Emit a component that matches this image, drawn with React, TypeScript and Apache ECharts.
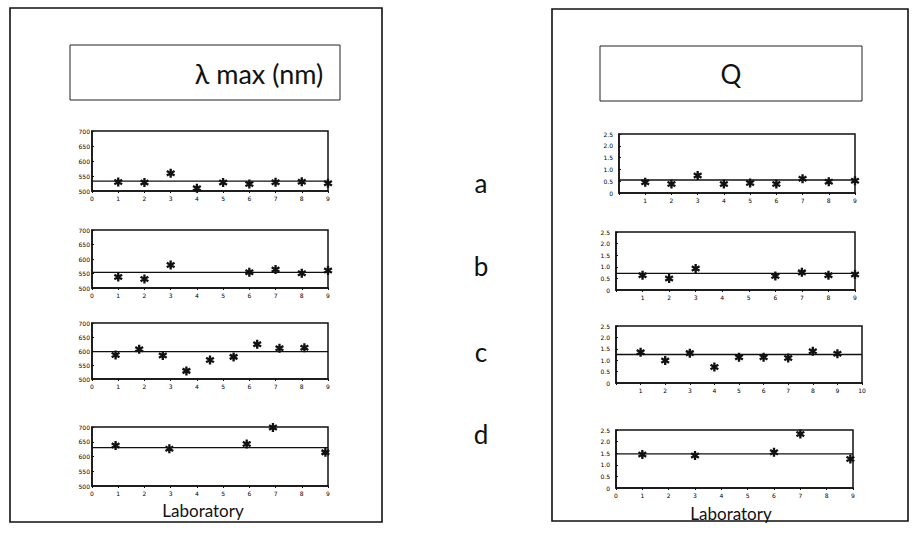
import React, { useEffect, useRef } from "react";
import * as echarts from "echarts";

// ---------- data ----------
const panelTitles = ["λ max (nm)", "Q"];
const rowLabels = ["a", "b", "c", "d"];
const axisTitle = "Laboratory";

// λ max (nm) panels
const lamA_x = [1, 2, 3, 4, 5, 6, 7, 8, 9];
const lamA_y = [530, 528, 559, 509, 528, 523, 529, 531, 526];
const lamB_x = [1, 2, 3, 6, 7, 8, 9];
const lamB_y = [538, 531, 579, 554, 564, 551, 560];
const lamC_x = [0.9, 1.8, 2.7, 3.6, 4.5, 5.4, 6.3, 7.15, 8.1];
const lamC_y = [586, 606, 584, 529, 568, 579, 624, 610, 612];
const lamD_x = [0.9, 2.95, 5.9, 6.9, 8.9];
const lamD_y = [637, 626, 642, 698, 614];
const lamMeans = [533, 554, 598, 630];

// Q panels
const qA_x = [1, 2, 3, 4, 5, 6, 7, 8, 9];
const qA_y = [0.46, 0.38, 0.74, 0.38, 0.42, 0.38, 0.6, 0.48, 0.52];
const qB_x = [1, 2, 3, 6, 7, 8, 9];
const qB_y = [0.64, 0.5, 0.93, 0.6, 0.76, 0.64, 0.67];
const qC_x = [1, 2, 3, 4, 5, 6, 7, 8, 9];
const qC_y = [1.35, 0.99, 1.31, 0.7, 1.13, 1.13, 1.1, 1.39, 1.28];
const qD_x = [1, 3, 6, 7, 8.9];
const qD_y = [1.44, 1.4, 1.54, 2.33, 1.25];
const qMeans = [0.55, 0.72, 1.25, 1.47];

const lamTicks = { min: 500, max: 700, interval: 50 };
const qTicks = { min: 0, max: 2.5, interval: 0.5 };
const xMaxLeft = [9, 9, 9, 9];
const xMaxRight = [9, 9, 10, 9];
const showZeroRight = [false, false, false, true];

// ---------- helpers ----------
function asteriskPath(): string {
  const t = 0.26;
  const parts: string[] = [];
  for (const a of [90, 30, -30]) {
    const r = (a * Math.PI) / 180;
    const dx = Math.cos(r) * 10;
    const dy = Math.sin(r) * 10;
    const nx = -Math.sin(r) * 10 * t;
    const ny = Math.cos(r) * 10 * t;
    const p = [
      [dx + nx, dy + ny],
      [dx - nx, dy - ny],
      [-dx - nx, -dy - ny],
      [-dx + nx, -dy + ny],
    ].map((q) => `${(q[0] + 10).toFixed(2)} ${(q[1] + 10).toFixed(2)}`);
    parts.push(`M${p[0]} L${p[1]} L${p[2]} L${p[3]} Z`);
  }
  return "path://" + parts.join(" ");
}

export default function App() {
  const ref = useRef<HTMLDivElement>(null);

  useEffect(() => {
    if (!ref.current) return;
    const chart = echarts.init(ref.current, undefined, { renderer: "svg" });
    const star = asteriskPath();
    const font = "DejaVu Sans";

    const leftGrids = [
      { left: 92, top: 131, width: 236, height: 60 },
      { left: 92, top: 230, width: 236, height: 58 },
      { left: 92, top: 323, width: 236, height: 56 },
      { left: 92, top: 427, width: 236, height: 59 },
    ];
    const rightGrids = [
      { left: 619, top: 134, width: 236, height: 59 },
      { left: 616, top: 232, width: 239, height: 58 },
      { left: 616, top: 326, width: 246, height: 57 },
      { left: 616, top: 430, width: 237, height: 58 },
    ];

    const grids: any[] = [];
    const xAxes: any[] = [];
    const yAxes: any[] = [];
    const series: any[] = [];

    const lamX = [lamA_x, lamB_x, lamC_x, lamD_x];
    const lamY = [lamA_y, lamB_y, lamC_y, lamD_y];
    const qX = [qA_x, qB_x, qC_x, qD_x];
    const qY = [qA_y, qB_y, qC_y, qD_y];

    const axisLabelStyle = { fontSize: 6, color: "#000", fontFamily: font };

    const addPanel = (
      g: any,
      xs: number[],
      ys: number[],
      mean: number,
      xmax: number,
      ticks: { min: number; max: number; interval: number },
      isQ: boolean,
      showZero: boolean
    ) => {
      const idx = grids.length;
      grids.push({
        ...g,
        show: true,
        borderColor: "#111",
        borderWidth: 1.5,
        backgroundColor: "transparent",
      });
      xAxes.push({
        type: "value",
        gridIndex: idx,
        min: 0,
        max: xmax,
        interval: 1,
        axisLine: { show: true, onZero: false, lineStyle: { color: "#111", width: 1.5 } },
        axisTick: { show: true, length: 2, lineStyle: { color: "#111" } },
        axisLabel: {
          ...axisLabelStyle,
          margin: 4,
          formatter: (v: number) => (v === 0 && !showZero ? "" : String(v)),
        },
        splitLine: { show: false },
      });
      yAxes.push({
        type: "value",
        gridIndex: idx,
        min: ticks.min,
        max: ticks.max,
        interval: ticks.interval,
        axisLine: { show: true, lineStyle: { color: "#111", width: 1.5 } },
        axisTick: { show: true, length: 2, inside: true, lineStyle: { color: "#111" } },
        axisLabel: {
          ...axisLabelStyle,
          margin: isQ ? 6 : 2,
          formatter: (v: number) => (isQ ? (v === 0 ? "0" : v.toFixed(1)) : String(v)),
        },
        splitLine: { show: false },
      });
      series.push({
        type: "line",
        xAxisIndex: idx,
        yAxisIndex: idx,
        data: [
          [0, mean],
          [xmax, mean],
        ],
        symbol: "none",
        lineStyle: { color: "#111", width: 1.3 },
        silent: true,
        z: 2,
      });
      series.push({
        type: "scatter",
        xAxisIndex: idx,
        yAxisIndex: idx,
        data: xs.map((x, i) => [x, ys[i]]),
        symbol: star,
        symbolSize: 9,
        symbolKeepAspect: true,
        itemStyle: { color: "#111", opacity: 1 },
        z: 3,
      });
    };

    for (let i = 0; i < 4; i++) {
      addPanel(leftGrids[i], lamX[i], lamY[i], lamMeans[i], xMaxLeft[i], lamTicks, false, true);
    }
    for (let i = 0; i < 4; i++) {
      addPanel(rightGrids[i], qX[i], qY[i], qMeans[i], xMaxRight[i], qTicks, true, showZeroRight[i]);
    }

    const rowY = [183, 266, 352, 434];
    const graphic: any[] = [
      {
        type: "rect",
        shape: { x: 10, y: 8, width: 372, height: 514 },
        style: { fill: "none", stroke: "#111", lineWidth: 1.6 },
      },
      {
        type: "rect",
        shape: { x: 552, y: 9, width: 356, height: 512 },
        style: { fill: "none", stroke: "#111", lineWidth: 1.6 },
      },
      {
        type: "rect",
        shape: { x: 70, y: 45, width: 270, height: 55 },
        style: { fill: "none", stroke: "#222", lineWidth: 1 },
      },
      {
        type: "rect",
        shape: { x: 600, y: 46, width: 262, height: 55 },
        style: { fill: "none", stroke: "#222", lineWidth: 1 },
      },
      {
        type: "text",
        style: {
          text: panelTitles[0],
          x: 259,
          y: 73,
          align: "center",
          verticalAlign: "middle",
          fill: "#111",
          font: `27px Lato`,
        },
      },
      {
        type: "text",
        style: {
          text: panelTitles[1],
          x: 731,
          y: 74,
          align: "center",
          verticalAlign: "middle",
          fill: "#111",
          font: `26px Lato`,
        },
      },
      {
        type: "text",
        style: {
          text: axisTitle,
          x: 203,
          y: 510,
          align: "center",
          verticalAlign: "middle",
          fill: "#111",
          font: `17px Lato`,
        },
      },
      {
        type: "text",
        style: {
          text: axisTitle,
          x: 731,
          y: 513,
          align: "center",
          verticalAlign: "middle",
          fill: "#111",
          font: `17px Lato`,
        },
      },
      ...rowLabels.map((t, i) => ({
        type: "text",
        style: {
          text: t,
          x: 481,
          y: rowY[i],
          align: "center",
          verticalAlign: "middle",
          fill: "#111",
          font: `26px Lato`,
        },
      })),
    ];

    chart.setOption({
      animation: false,
      backgroundColor: "#fff",
      grid: grids,
      xAxis: xAxes,
      yAxis: yAxes,
      series,
      graphic,
    });

    return () => chart.dispose();
  }, []);

  return (
    <div
      ref={ref}
      style={{ position: "fixed", left: 0, top: 0, width: 918, height: 533, background: "#fff" }}
    />
  );
}
